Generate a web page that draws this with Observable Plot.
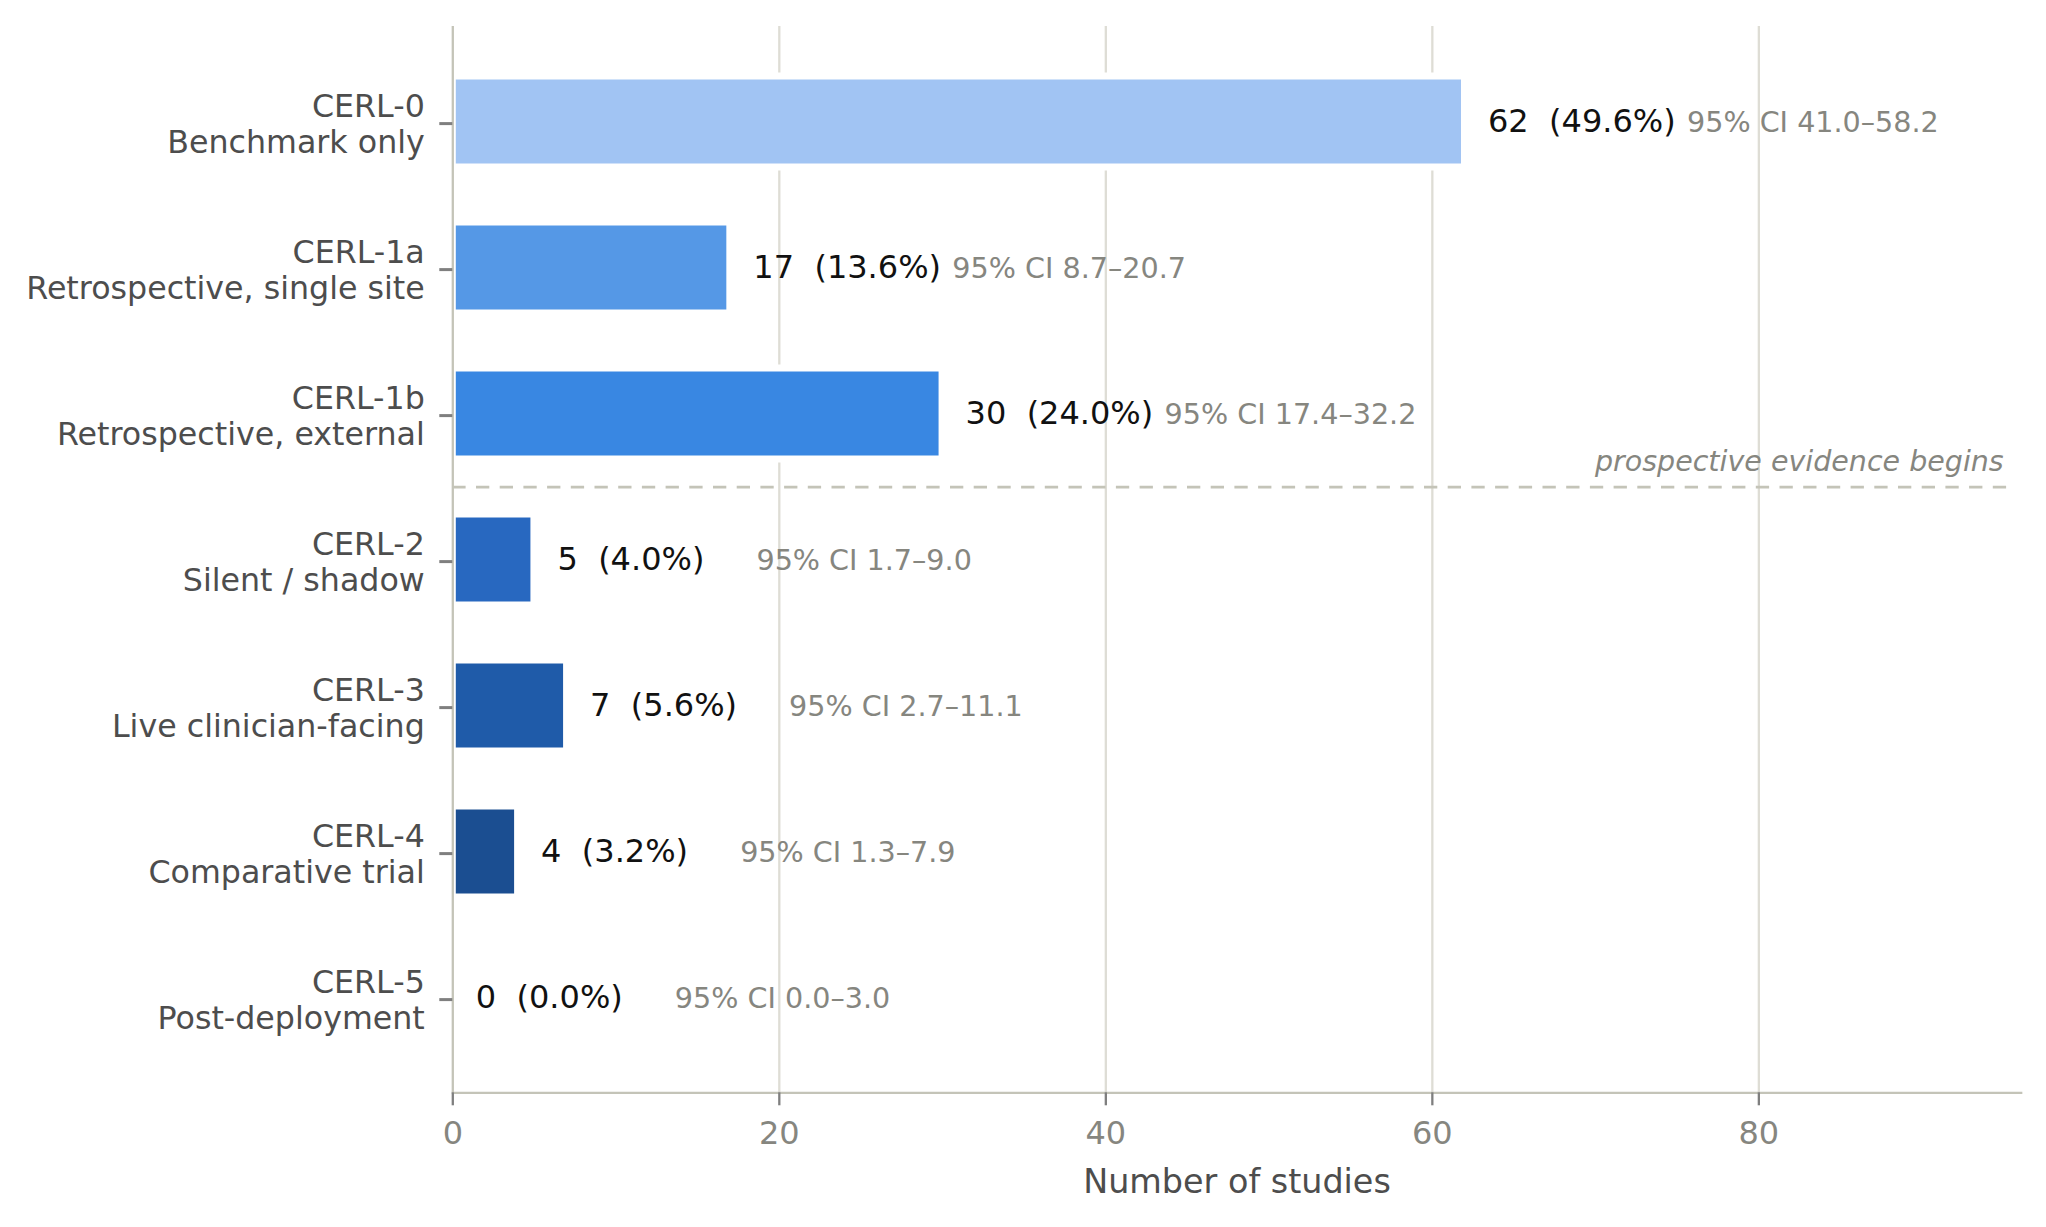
<!DOCTYPE html>
<html>
<head>
<meta charset="utf-8">
<script src="https://cdn.jsdelivr.net/npm/d3@7"></script>
<script src="https://cdn.jsdelivr.net/npm/@observablehq/plot@0.6"></script>
<style>
  html, body { margin: 0; padding: 0; background: #ffffff; overflow: hidden; }
  #chart svg { display: block; }
  #chart svg, #chart svg text, #chart svg g { font-family: "DejaVu Sans" !important; }
</style>
</head>
<body>
<div id="chart"></div>
<script>
// ---- data ----
const levels = ["CERL-0", "CERL-1a", "CERL-1b", "CERL-2", "CERL-3", "CERL-4", "CERL-5"];
const descriptions = ["Benchmark only", "Retrospective, single site", "Retrospective, external",
  "Silent / shadow", "Live clinician-facing", "Comparative trial", "Post-deployment"];
const counts = [62, 17, 30, 5, 7, 4, 0];
const percents = [49.6, 13.6, 24.0, 4.0, 5.6, 3.2, 0.0];
const ciLow = [41.0, 8.7, 17.4, 1.7, 2.7, 1.3, 0.0];
const ciHigh = [58.2, 20.7, 32.2, 9.0, 11.1, 7.9, 3.0];
const barColors = ["#a1c4f3", "#5598e6", "#3987e2", "#2868c0", "#1f5ba9", "#1b4e91", "#123a6e"];
const xTicks = [0, 20, 40, 60, 80];
const xMax = 96.07;
const dividerAfter = "CERL-1b";
const dividerLabel = "prospective evidence begins";
const xLabel = "Number of studies";

const rows = levels.map((level, i) => ({
  level, desc: descriptions[i], n: counts[i], pct: percents[i], lo: ciLow[i], hi: ciHigh[i]
}));

// ---- layout ----
const W = 2046, H = 1227;
const mL = 452.3, mR = 25.3, mT = 26, mB = 134.7;
const padInner = 0.38, padOuter = 0.338;
const step = (H - mT - mB) / (levels.length - padInner + 2 * padOuter);

const spine = "#c4c4b8";
const tickGray = "#7f7f7f";
const textDark = "#4d4d4d";
const textGray = "#86867f";

const chart = Plot.plot({
  width: W,
  height: H,
  marginLeft: mL,
  marginRight: mR,
  marginTop: mT,
  marginBottom: mB,
  style: "font-family: 'DejaVu Sans'; background: #ffffff; overflow: visible;",
  x: { domain: [0, xMax] },
  y: { domain: levels, paddingInner: padInner, paddingOuter: padOuter, align: 0.5 },
  color: { domain: levels, range: barColors },
  marks: [
    Plot.gridX(xTicks.filter(t => t > 0), { stroke: "#deddd5", strokeWidth: 2.3, strokeOpacity: 1 }),
    Plot.barX(rows, { x: "n", y: "level", fill: "level", stroke: "#ffffff", strokeWidth: 7 }),
    Plot.ruleY([dividerAfter], {
      x1: 0, x2: 95.5, dy: step / 2,
      stroke: spine, strokeWidth: 2.8, strokeDasharray: "13.3,10.4"
    }),
    Plot.text([dividerLabel], {
      x: 95, y: () => dividerAfter, dy: 47.9, text: d => d,
      textAnchor: "end", lineAnchor: "middle", fontSize: 28.5, fontStyle: "italic", fill: textGray
    }),
    Plot.text(rows, {
      x: "n", y: "level", dx: 23,
      text: d => `${d.n}\u00a0\u00a0(${d.pct.toFixed(1)}%)`,
      textAnchor: "start", lineAnchor: "middle", fontSize: 32, fill: "#111111"
    }),
    Plot.text(rows, {
      x: d => d.n + 13.6, y: "level", dy: 0.5,
      text: d => `95% CI ${d.lo.toFixed(1)}\u2013${d.hi.toFixed(1)}`,
      textAnchor: "start", lineAnchor: "middle", fontSize: 28.6, fill: textGray
    }),
    Plot.ruleX([0], { stroke: spine, strokeWidth: 2.3 }),
    Plot.frame({ anchor: "bottom", stroke: spine, strokeWidth: 2.3 }),
    Plot.axisX({
      ticks: xTicks, tickSize: 13, tickPadding: 15, tickFormat: d => String(d),
      stroke: tickGray, strokeWidth: 2.3, fill: textGray, fontSize: 32, label: null
    }),
    Plot.axisY({
      tickSize: 13, tickPadding: 15,
      tickFormat: d => `${d}\n${descriptions[levels.indexOf(d)]}`,
      stroke: tickGray, strokeWidth: 3, fill: textDark, fontSize: 31.7,
      lineHeight: 1.117, dy: 1.6, label: null
    }),
    Plot.text([xLabel], {
      frameAnchor: "bottom", dy: 89.7, text: d => d,
      lineAnchor: "middle", fontSize: 33.4, fill: textDark
    })
  ]
});

document.getElementById("chart").appendChild(chart);
</script>
</body>
</html>
